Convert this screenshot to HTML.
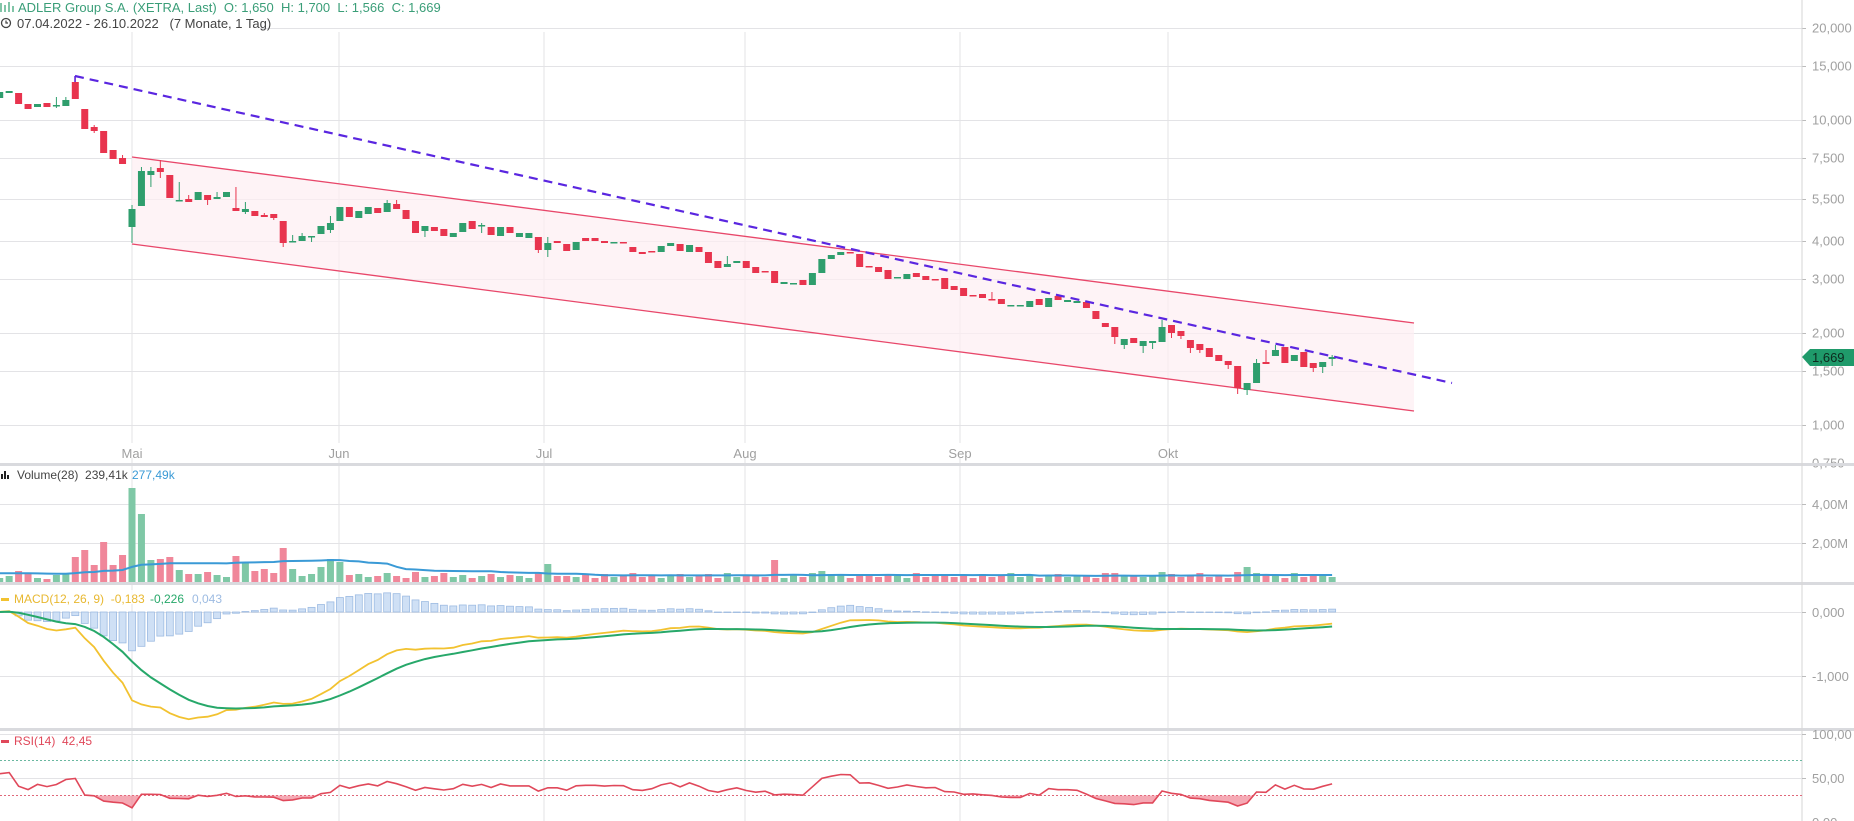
<!DOCTYPE html>
<html><head><meta charset="utf-8">
<style>
html,body{margin:0;padding:0;background:#fff;width:1854px;height:821px;overflow:hidden}
svg{display:block;font-family:"Liberation Sans",sans-serif}
</style></head><body>
<svg id="s" width="1854" height="821" viewBox="0 0 1854 821" xmlns="http://www.w3.org/2000/svg"></svg>
<script>
(function(){
var C=[[98,92],[93,91],[93,104],[104,109],[107,104],[103,107],[106,105,97,108],[106,100,97],[82,99,76],[109,129],[127,131,125,133],[131,153],[150,159],[158,164,155],[227,209,205,243],[206,171,167],[175,171,167,187],[168,172,160,178],[175,198],[201,200,182],[199,202,195],[200,192],[195,200,195,205],[199,197,192],[197,192],[208,211,187],[212,209,202,214],[211,216],[215,217,213],[214,218,214,220],[221,243,221,247],[242,241,235],[241,236,233],[237,236,236,242],[234,226],[230,223,216,233],[221,207],[207,217],[218,211],
[214,207],[208,213],[212,203,200],[204,209,200],[210,219],[221,233],[231,226,226,237],[227,231],[229,236],[237,233],[232,223],[221,229],[225.5,225,223,233],[227,235],[236,227],[227,233],[237,233],[238,233],[237,250,237,253],[250,243,237,257],[241,243],[244,251],[250,242],[238,241],[238,241],[241,243],[242.5,242],[242,242.5],[247,252],[252,254],[251,251.5],[252,246],[246,243],[244,251],[252,245],[247,252],[252,263],[261,268],[267,264,256],[263,261],[261,268],[267,273],[271,271.5],[271,283],[284,282],[284,283],[280,285],[285,273],[273,259],[259,255],[255,252],[252,252.5],[254,267],[266,266.5],[267,272],[270,279],[277.5,277],[279,274],[273,277],[276,280],[279,279.5],[278,289],[286,290],[288,296],[295,295.5],[294,298],[299,299.5,292],[299,304],[305.5,305],[305.5,305],[307,301],[299,305],[307,298],[296,300],[302,300],[303,301],[302,308],[311,319],[323,327],[327,337,327,344],[345,339,339,349],[338,343],[346,341,341,353],[343,341,341,349],[342,327,320],[325,333,325,338],[331,336,331,339],[340,348,340,353],[344,350,344,353],[348,357],[355,361],[361,365,361,369],[366,388,366,394],[390,383,383,395],[383,363,359],[362,364,350],[356,350,345],[347,363],[361,355],[352,367],[363,368,363,372],[367,362,362,373],[359,357,355,366]];
var V=[4,6,11,9,4,3,7,9,25,32,17,40,17,27,94,68,22,23,25,12,8,8,10,7,5,26,19,11,13,9,34,13,6,8,15,23,20,7,8,5,6,9,6];
var pat=[6,5,7,4,8,5,6,9,5,7,4,6,8,5,7,6,4,9,5,6];
for(var i=V.length;i<C.length;i++){V.push(pat[i%pat.length]);}
V[44]=10;V[58]=18;V[82]=22;V[86]=9;V[87]=11;V[88]=8;V[131]=10;V[132]=15;V[133]=9;V[118]=9;V[123]=10;V[100]=8;V[75]=8;
function X(i){return 132+(i-14)*9.45;}
function P(y){return Math.pow(10,1.301-(y-28)/305);}
var G='#2f9e6d',R='#e8344e',s='';
function L(x1,y1,x2,y2,c,w,extra){s+='<line x1="'+x1+'" y1="'+y1+'" x2="'+x2+'" y2="'+y2+'" stroke="'+c+'" stroke-width="'+(w||1)+'" '+(extra||'')+'/>';}
function T(x,y,t,c,sz,anc){s+='<text x="'+x+'" y="'+y+'" fill="'+c+'" font-size="'+(sz||12)+'"'+(anc?' text-anchor="'+anc+'"':'')+'>'+t+'</text>';}
var gc='#e3e3e6';
var months=[[132,'Mai'],[339,'Jun'],[544,'Jul'],[745,'Aug'],[960,'Sep'],[1168,'Okt']];
months.forEach(function(m){L(m[0],32,m[0],821,gc);});
var pt=[[20,'20,000'],[15,'15,000'],[10,'10,000'],[7.5,'7,500'],[5.5,'5,500'],[4,'4,000'],[3,'3,000'],[2,'2,000'],[1.5,'1,500'],[1,'1,000'],[0.75,'0,750']];
pt.forEach(function(p){var y=Math.round(28+(1.301-Math.log10(p[0]))*305)+0.5;L(0,y,1802,y,gc);L(1802,y,1806,y,'#bbb');T(1812,y+4,p[1],'#a0a0a0',13);});
s+='<rect x="0" y="0" width="260" height="31" fill="#fff"/>';
s+='<polygon points="132,157 1414,323 1414,411 132,244" fill="#fdeef2" fill-opacity="0.7"/>';
L(132,157,1414,323,'#e8476a',1.3);L(132,244,1414,411,'#e8476a',1.3);
for(var i=0;i<C.length;i++){var c=C[i],o=c[0],cc=c[1],col=cc<=o?G:R;var tp=Math.min(o,cc),bt=Math.max(o,cc);var hi=c.length>2?c[2]:tp,lo=c.length>3?c[3]:bt;var x=X(i);
L(x,Math.min(hi,tp),x,Math.max(lo,bt),col,1);var bh=Math.max(bt-tp,1.5);s+='<rect x="'+(x-3.5)+'" y="'+tp+'" width="7" height="'+bh+'" fill="'+col+'"/>';}
L(75,76,1452,383,'#5a26e0',2.2,'stroke-dasharray="9,6"');L(75,76,75,82,'#5a26e0',1.5);
months.forEach(function(m){s+='<rect x="'+(m[0]-16)+'" y="443" width="32" height="15" fill="#fff"/>';T(m[0],458,m[1],'#a0a0a0',13,'middle');});
s+='<rect x="0" y="463" width="1854" height="3" fill="#d9dade"/>';
s+='<rect x="0" y="582" width="1854" height="3" fill="#d9dade"/>';
s+='<rect x="0" y="728" width="1854" height="3" fill="#d9dade"/>';
L(1802,0,1802,821,'#d6d6d6');
s+='<polygon points="1802,357 1810,349 1854,349 1854,366 1810,366" fill="#1f9a6a"/>';T(1812,362,'1,669','#0d2a1e',13);
[[504,'4,00M'],[543,'2,00M']].forEach(function(g){L(0,g[0]+.5,1802,g[0]+.5,gc);L(1802,g[0]+.5,1806,g[0]+.5,'#bbb');T(1812,g[0]+5,g[1],'#a0a0a0',13);});
var ma=[],hist=[];for(var k=0;k<28;k++)hist.push(9);
for(var i=0;i<C.length;i++){var c=C[i],col=c[1]<=c[0]?'#7fc8a6':'#f0879a';var x=X(i);s+='<rect x="'+(x-3.5)+'" y="'+(582-V[i])+'" width="7" height="'+V[i]+'" fill="'+col+'"/>';hist.push(V[i]);hist.shift();var sm=0;hist.forEach(function(v){sm+=v});ma.push(582-sm/28);}
var d='M0,'+ma[0].toFixed(1);ma.forEach(function(y,i){d+='L'+X(i).toFixed(1)+','+y.toFixed(1);});s+='<path d="'+d+'" fill="none" stroke="#3a9ad6" stroke-width="2"/>';
s+='<rect x="1" y="474" width="2" height="5" fill="#222"/><rect x="4" y="471" width="2" height="8" fill="#222"/><rect x="7" y="475" width="2" height="4" fill="#222"/>';
T(17,479,'Volume(28)&#160;&#160;239,41k','#444',12);T(132,479,'277,49k','#3a9ad6',12);
var cl=C.map(function(c){return P(c[1]);});
var e12=12.3,e26=12.3,sig=0,M=[],S=[],H=[];
cl.forEach(function(p){e12=e12+(p-e12)*2/13;e26=e26+(p-e26)*2/27;var m=e12-e26;sig=sig+(m-sig)*0.2;M.push(m);S.push(sig);H.push(m-sig);});
[[612,'0,000'],[676,'-1,000']].forEach(function(g){L(0,g[0]+.5,1802,g[0]+.5,gc);L(1802,g[0]+.5,1806,g[0]+.5,'#bbb');T(1812,g[0]+5,g[1],'#a0a0a0',13);});
function my(v){return Math.max(586,Math.min(727,612-v*64));}
H.forEach(function(h,i){var x=X(i),y=my(h),t=Math.min(y,612),hh=Math.abs(y-612);s+='<rect x="'+(x-3.5)+'" y="'+t+'" width="7" height="'+Math.max(hh,0.5)+'" fill="#cfe0f5" stroke="#9dbbe2" stroke-width="0.8"/>';});
function pl(arr,f,col,w){var d='';arr.forEach(function(v,i){d+=(i?'L':'M')+X(i).toFixed(1)+','+f(v).toFixed(1);});s+='<path d="'+d+'" fill="none" stroke="'+col+'" stroke-width="'+w+'"/>';}
pl(M,my,'#f2c230',1.8);pl(S,my,'#27a86a',2);
s+='<rect x="0" y="590" width="220" height="14" fill="#fff" fill-opacity="0.8"/>';
s+='<rect x="1" y="598" width="8" height="3" fill="#f2c230"/>';
T(14,603,'MACD(12, 26, 9)&#160;&#160;-0,183','#e8b830',12);T(150,603,'-0,226','#27a86a',12);T(192,603,'0,043','#9dbbe2',12);
[[734,'100,00'],[778,'50,00'],[822,'0,00']].forEach(function(g){L(0,g[0]+.5,1802,g[0]+.5,gc);L(1802,g[0]+.5,1806,g[0]+.5,'#bbb');T(1812,g[0]+5,g[1],'#a0a0a0',13);});
L(0,760.5,1802,760.5,'#6ab8a0',1,'stroke-dasharray="2,2"');L(0,795.5,1802,795.5,'#e0687a',1,'stroke-dasharray="2,2"');
var ag=0.12,al=0.12,RS=[],prev=12.0;
cl.forEach(function(p){var ch=p-prev;prev=p;ag=(ag*13+Math.max(ch,0))/14;al=(al*13+Math.max(-ch,0))/14;RS.push(100-100/(1+ag/al));});
function ry(v){return 822-v*0.88;}
var fd='M'+X(0)+',795.5';RS.forEach(function(v,i){fd+='L'+X(i).toFixed(1)+','+ry(v).toFixed(1);});fd+='L'+X(RS.length-1)+',795.5Z';
s+='<clipPath id="cb"><rect x="0" y="795.5" width="1802" height="30"/></clipPath><path d="'+fd+'" fill="#ee6f82" fill-opacity="0.6" clip-path="url(#cb)"/>';
pl(RS,ry,'#e0485a',1.6);
s+='<rect x="1" y="740" width="8" height="3" fill="#e0485a"/>';T(14,745,'RSI(14)&#160;&#160;42,45','#e0485a',12);
s+='<g stroke="#2f9e6d" stroke-width="1.2"><line x1="1" y1="3" x2="1" y2="12"/><line x1="5" y1="5" x2="5" y2="12"/><line x1="9" y1="2" x2="9" y2="12"/><line x1="13" y1="6" x2="13" y2="12"/></g>';
T(18,12,'ADLER Group S.A. (XETRA, Last)&#160;&#160;O: 1,650&#160;&#160;H: 1,700&#160;&#160;L: 1,566&#160;&#160;C: 1,669','#3a9e78',13);
s+='<circle cx="6" cy="23" r="4.5" fill="none" stroke="#444" stroke-width="1.3"/><path d="M6,20.5V23H8" fill="none" stroke="#444" stroke-width="1.2"/>';
T(17,28,'07.04.2022 - 26.10.2022&#160;&#160;&#160;(7 Monate, 1 Tag)','#444',13);
document.getElementById('s').innerHTML=s;
})();
</script>
</body></html>
